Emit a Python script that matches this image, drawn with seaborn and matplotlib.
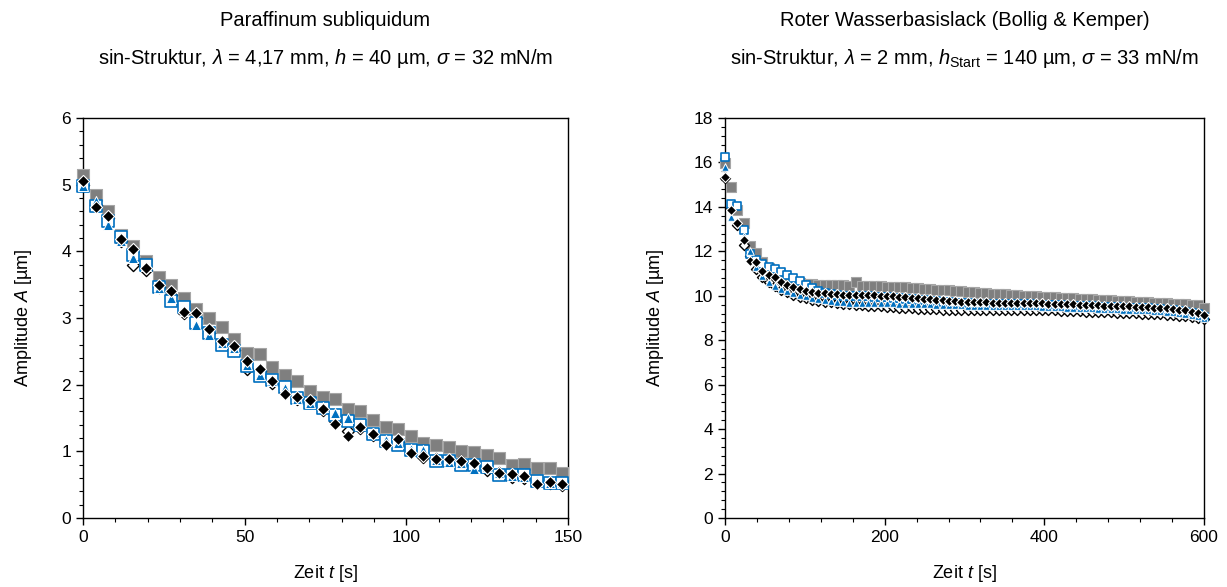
import numpy as np
import pandas as pd
import matplotlib
matplotlib.use("Agg")
import matplotlib.pyplot as plt
from matplotlib.ticker import MultipleLocator, AutoMinorLocator
import seaborn as sns

# ---------------- Paraffinum subliquidum ----------------
t_paraffin = [0.0, 3.9, 7.8, 11.7, 15.6, 19.5, 23.4, 27.3, 31.2, 35.1, 39.0, 42.9, 46.8,
              50.7, 54.6, 58.5, 62.4, 66.3, 70.2, 74.1, 78.0, 81.9, 85.8, 89.7, 93.6,
              97.5, 101.4, 105.3, 109.2, 113.1, 117.0, 120.9, 124.8, 128.7, 132.6,
              136.5, 140.4, 144.3, 148.2]
p_gray_sq = [5.15, 4.85, 4.60, 4.25, 4.08, 3.85, 3.62, 3.50, 3.30, 3.13, 3.00, 2.86, 2.69,
             2.48, 2.46, 2.26, 2.14, 2.05, 1.91, 1.81, 1.78, 1.63, 1.60, 1.47, 1.37,
             1.34, 1.23, 1.13, 1.09, 1.06, 1.01, 0.99, 0.94, 0.90, 0.80, 0.81, 0.75,
             0.75, 0.68]
p_open_sq = [4.98, 4.68, 4.45, 4.22, 3.95, 3.80, 3.47, 3.25, 3.17, 2.92, 2.77, 2.60, 2.50,
             2.28, 2.13, 2.07, 1.96, 1.80, 1.73, 1.65, 1.55, 1.45, 1.39, 1.26, 1.15,
             1.10, 1.02, 1.00, 0.85, 0.85, 0.80, 0.80, 0.77, 0.65, 0.64, 0.64, 0.55,
             0.53, 0.53]
p_triangle = [4.98, 4.75, 4.40, 4.15, 3.90, 3.78, 3.45, 3.30, 3.10, 2.90, 2.75, 2.62, 2.55,
              2.30, 2.15, 2.05, 1.95, 1.78, 1.72, 1.66, 1.58, 1.50, 1.40, 1.28, 1.17,
              1.12, 1.04, 1.02, 0.87, 0.84, 0.82, 0.74, 0.76, 0.67, 0.63, 0.62, 0.56,
              0.52, 0.52]
p_open_dia = [5.00, 4.70, 4.50, 4.15, 3.80, 3.72, 3.47, 3.35, 3.08, 3.00, 2.78, 2.62, 2.52,
              2.23, 2.20, 2.02, 1.87, 1.78, 1.74, 1.62, 1.45, 1.30, 1.35, 1.24, 1.12,
              1.14, 0.99, 0.92, 0.88, 0.87, 0.85, 0.80, 0.72, 0.67, 0.62, 0.60, 0.52,
              0.52, 0.50]
p_black_dia = [5.06, 4.67, 4.53, 4.18, 4.04, 3.75, 3.50, 3.41, 3.09, 3.08, 2.83, 2.65, 2.58,
               2.35, 2.24, 2.06, 1.86, 1.81, 1.77, 1.64, 1.41, 1.23, 1.36, 1.26, 1.10,
               1.18, 0.97, 0.93, 0.89, 0.89, 0.86, 0.83, 0.75, 0.68, 0.66, 0.63, 0.51,
               0.54, 0.51]

# ---------------- Roter Wasserbasislack ----------------
t_lack = [0.0, 7.8, 15.6, 23.4, 31.2, 39.0, 46.8, 54.5, 62.3, 70.1, 77.9, 85.7, 93.5,
          101.3, 109.1, 116.9, 124.7, 132.5, 140.3, 148.1, 155.8, 163.6, 171.4, 179.2,
          187.0, 194.8, 202.6, 210.4, 218.2, 226.0, 233.8, 241.6, 249.4, 257.1, 264.9,
          272.7, 280.5, 288.3, 296.1, 303.9, 311.7, 319.5, 327.3, 335.1, 342.9, 350.6,
          358.4, 366.2, 374.0, 381.8, 389.6, 397.4, 405.2, 413.0, 420.8, 428.6, 436.4,
          444.2, 451.9, 459.7, 467.5, 475.3, 483.1, 490.9, 498.7, 506.5, 514.3, 522.1,
          529.9, 537.7, 545.5, 553.2, 561.0, 568.8, 576.6, 584.4, 592.2, 600.0]
l_gray_sq = [15.96, 14.91, 13.86, 13.26, 12.24, 11.94, 11.54, 11.24, 11.00, 10.86, 10.74,
             10.64, 10.56, 10.53, 10.51, 10.50, 10.49, 10.48, 10.48, 10.47, 10.46, 10.62,
             10.45, 10.44, 10.43, 10.42, 10.41, 10.40, 10.39, 10.38, 10.36, 10.34, 10.32,
             10.30, 10.28, 10.26, 10.24, 10.22, 10.20, 10.18, 10.16, 10.14, 10.12, 10.10,
             10.08, 10.06, 10.04, 10.02, 10.00, 9.99, 9.97, 9.96, 9.94, 9.93, 9.91, 9.90,
             9.88, 9.87, 9.85, 9.84, 9.82, 9.81, 9.79, 9.78, 9.76, 9.75, 9.73, 9.72, 9.70,
             9.69, 9.67, 9.66, 9.64, 9.63, 9.61, 9.60, 9.58, 9.47]
l_open_sq = [16.25, 14.13, 14.06, 12.95, 11.90, 11.60, 11.43, 11.31, 11.20, 11.05, 10.95,
             10.80, 10.68, 10.50, 10.35, 10.22, 10.12, 10.06, 10.03, 10.00, 9.98, 9.98,
             9.97, 9.97, 9.96, 9.95, 9.93, 9.92, 9.90, 9.87, 9.85, 9.83, 9.81, 9.78, 9.75,
             9.73, 9.70, 9.69, 9.67, 9.66, 9.65, 9.64, 9.64, 9.63, 9.63, 9.62, 9.62, 9.62,
             9.61, 9.61, 9.60, 9.60, 9.59, 9.58, 9.57, 9.56, 9.55, 9.54, 9.53, 9.52, 9.51,
             9.50, 9.49, 9.48, 9.47, 9.46, 9.45, 9.44, 9.43, 9.41, 9.39, 9.37, 9.35, 9.32,
             9.28, 9.23, 9.16, 9.06]
l_triangle = [15.80, 13.56, 13.40, 12.70, 12.00, 11.31, 10.90, 10.60, 10.42, 10.30, 10.20,
              10.13, 10.05, 9.97, 9.90, 9.85, 9.80, 9.76, 9.73, 9.70, 9.69, 9.69, 9.68,
              9.68, 9.67, 9.67, 9.66, 9.66, 9.65, 9.65, 9.64, 9.63, 9.62, 9.61, 9.60, 9.59,
              9.58, 9.57, 9.57, 9.56, 9.56, 9.55, 9.55, 9.55, 9.55, 9.55, 9.54, 9.54, 9.53,
              9.53, 9.52, 9.51, 9.50, 9.49, 9.48, 9.47, 9.46, 9.45, 9.44, 9.43, 9.42, 9.41,
              9.40, 9.39, 9.38, 9.37, 9.36, 9.35, 9.34, 9.32, 9.30, 9.28, 9.25, 9.22, 9.18,
              9.13, 9.07, 9.00]
l_open_dia = [15.30, 13.95, 13.20, 12.30, 11.80, 11.20, 10.85, 10.60, 10.42, 10.28, 10.15,
              10.05, 9.95, 9.88, 9.82, 9.77, 9.73, 9.70, 9.67, 9.65, 9.62, 9.60, 9.58, 9.56,
              9.55, 9.53, 9.51, 9.49, 9.47, 9.45, 9.43, 9.42, 9.41, 9.40, 9.39, 9.38, 9.38,
              9.37, 9.37, 9.37, 9.37, 9.37, 9.38, 9.38, 9.38, 9.38, 9.38, 9.38, 9.38, 9.37,
              9.37, 9.36, 9.35, 9.34, 9.33, 9.32, 9.31, 9.30, 9.29, 9.28, 9.27, 9.26, 9.25,
              9.24, 9.23, 9.22, 9.21, 9.20, 9.19, 9.18, 9.16, 9.14, 9.12, 9.10, 9.07, 9.04,
              9.00, 8.95]
l_black_dia = [15.35, 13.86, 13.29, 12.51, 11.58, 11.54, 11.13, 10.94, 10.83, 10.64, 10.49,
               10.41, 10.31, 10.23, 10.19, 10.14, 10.11, 10.08, 10.07, 10.05, 10.04, 10.04,
               10.03, 10.03, 10.02, 10.01, 9.99, 9.98, 9.96, 9.93, 9.91, 9.89, 9.87, 9.84,
               9.81, 9.79, 9.76, 9.75, 9.73, 9.72, 9.71, 9.70, 9.70, 9.69, 9.69, 9.68, 9.68,
               9.68, 9.67, 9.67, 9.66, 9.66, 9.65, 9.64, 9.63, 9.62, 9.61, 9.60, 9.59, 9.58,
               9.57, 9.56, 9.55, 9.54, 9.53, 9.52, 9.51, 9.50, 9.49, 9.47, 9.45, 9.43, 9.41,
               9.38, 9.34, 9.29, 9.22, 9.12]

# ---------------- style ----------------
sns.set_theme(style="ticks")
plt.rcParams["font.family"] = ["Liberation Sans", "DejaVu Sans"]
plt.rcParams["mathtext.fontset"] = "custom"
plt.rcParams["mathtext.rm"] = "Liberation Sans"
plt.rcParams["mathtext.it"] = "Liberation Sans:italic"
plt.rcParams["mathtext.bf"] = "Liberation Sans:bold"
for key in ("text.color", "axes.labelcolor", "xtick.color", "ytick.color",
            "axes.edgecolor"):
    plt.rcParams[key] = "black"

BLUE = "#0070C0"
GRAY = "#7f7f7f"
GRAY_EDGE = "#a6a6a6"

W, H = 1227, 587
fig = plt.figure(figsize=(W / 100, H / 100), dpi=100)
ax1 = fig.add_axes([83 / W, 69 / H, 485 / W, 400 / H])
ax2 = fig.add_axes([725 / W, 69 / H, 479 / W, 400 / H])


def draw_series(ax, t, values, marker, size, face, edge, lw):
    df = pd.DataFrame({"t": t, "A": values})
    sns.scatterplot(data=df, x="t", y="A", ax=ax, marker=marker, s=size,
                    color=face, edgecolor=edge, linewidth=lw, clip_on=False,
                    legend=False, zorder=3)


def panel(ax, t, gray, osq, tri, odia, bdia, sizes):
    s_sq, s_tri, s_dia = sizes
    draw_series(ax, t, gray, "s", s_sq, GRAY, GRAY_EDGE, 0.8)
    draw_series(ax, t, odia, "D", s_dia, "white", "black", 1.0)
    draw_series(ax, t, osq, "s", s_sq * 0.85, "white", BLUE, 1.2)
    draw_series(ax, t, tri, "^", s_tri, BLUE, "white", 0.7)
    draw_series(ax, t, bdia, "D", s_dia, "black", "white", 0.8)


panel(ax1, t_paraffin, p_gray_sq, p_open_sq, p_triangle, p_open_dia, p_black_dia,
      (74, 52, 38))
panel(ax2, t_lack, l_gray_sq, l_open_sq, l_triangle, l_open_dia, l_black_dia,
      (44, 30, 26))

ax1.set_xlim(0, 150)
ax1.set_ylim(0, 6)
ax1.xaxis.set_major_locator(MultipleLocator(50))
ax1.yaxis.set_major_locator(MultipleLocator(1))

ax2.set_xlim(0, 600)
ax2.set_ylim(0, 18)
ax2.xaxis.set_major_locator(MultipleLocator(200))
ax2.yaxis.set_major_locator(MultipleLocator(2))

for ax in (ax1, ax2):
    ax.xaxis.set_minor_locator(AutoMinorLocator(5))
    ax.yaxis.set_minor_locator(AutoMinorLocator(5))
    for side in ax.spines.values():
        side.set_visible(True)
        side.set_color("black")
        side.set_linewidth(1.0)
    ax.tick_params(which="major", direction="out", length=5, width=1.0,
                   labelsize=12.5, colors="black", top=False, right=False)
    ax.tick_params(which="minor", direction="out", length=3, width=0.8,
                   top=False, right=False)
    ax.set_xlabel("Zeit $t$ [s]", fontsize=13, labelpad=13)
    ax.set_ylabel("Amplitude $A$ [µm]", fontsize=13, labelpad=20)
    ax.set_facecolor("white")

# headings above each panel
cx1 = (83 + 568) / 2 / W
cx2 = (725 + 1204) / 2 / W
fig.text(cx1, 1 - 20 / H, "Paraffinum subliquidum", ha="center", va="center",
         fontsize=14.5)
fig.text(cx1, 1 - 58 / H,
         r"sin-Struktur, $\lambda$ = 4,17 mm, $h$ = 40 µm, $\sigma$ = 32 mN/m",
         ha="center", va="center", fontsize=14.5)
fig.text(cx2, 1 - 20 / H, "Roter Wasserbasislack (Bollig & Kemper)", ha="center",
         va="center", fontsize=14.5)
fig.text(cx2, 1 - 58 / H,
         r"sin-Struktur, $\lambda$ = 2 mm, $h_{\mathrm{Start}}$ = 140 µm, $\sigma$ = 33 mN/m",
         ha="center", va="center", fontsize=14.5)

fig.savefig("out.png", dpi=100, facecolor="white")
